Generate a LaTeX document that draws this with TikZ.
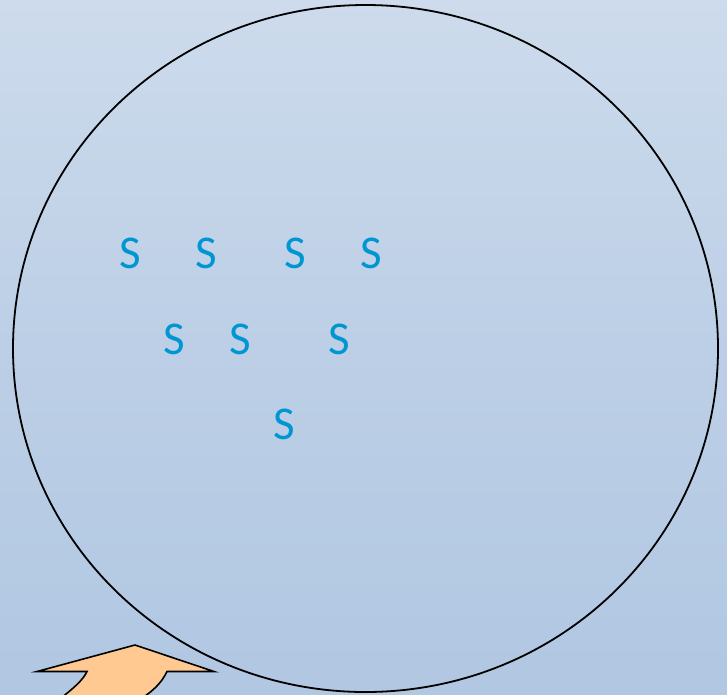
\documentclass[tikz,border=0pt]{standalone}
\usepackage{fontspec}
\newfontfamily\carlito{Carlito}
\definecolor{bgtop}{RGB}{205,219,236}
\definecolor{bgbot}{RGB}{177,199,226}
\definecolor{sblue}{RGB}{0,150,210}
\definecolor{arrowfill}{RGB}{255,201,145}
\tikzset{
  sletter/.style={inner sep=0pt, text=sblue, font=\carlito\fontsize{47}{47}\selectfont},
  outline/.style={draw=black, line width=1.8pt},
}
\begin{document}
\begin{tikzpicture}[x=1pt,y=-1pt]
\useasboundingbox (0,0) rectangle (727,694);
\shade[top color=bgtop, bottom color=bgbot, middle color=bgbot!60!bgtop] (0,0) rectangle (727,694);
\begin{scope}
\clip (0,0) rectangle (727,694);
\draw[outline] (365.5,348.5) ellipse [x radius=352.5, y radius=343.5];
\draw[outline, line width=1.6pt, fill=arrowfill, line join=miter]
  (56,702) .. controls (74,688) and (83,680) .. (87,671.5)
  -- (37,671.5) -- (135,645) -- (214,671.5) -- (167,671.5)
  .. controls (161,684) and (152,692) .. (136,702) -- cycle;
\end{scope}
\node[sletter] (s1) at (130.5,253) {S};
\node[sletter] (s2) at (206.5,253) {S};
\node[sletter] (s3) at (295,253) {S};
\node[sletter] (s4) at (371.5,253) {S};
\node[sletter] (s5) at (174,339) {S};
\node[sletter] (s6) at (240,339) {S};
\node[sletter] (s7) at (339,339) {S};
\node[sletter] (s8) at (284,424) {S};
\end{tikzpicture}
\end{document}
